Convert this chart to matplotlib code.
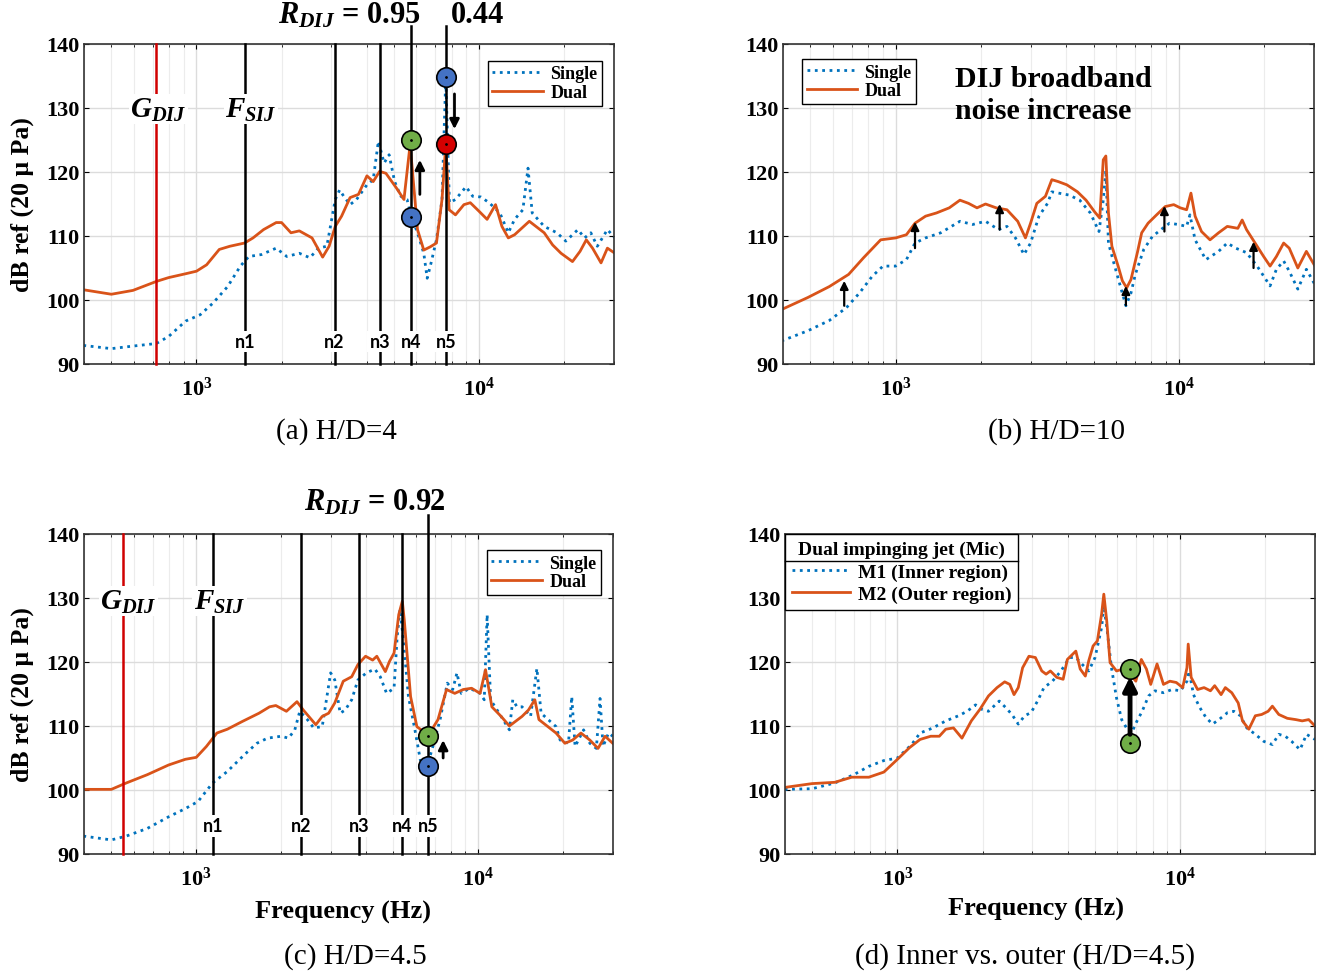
import matplotlib
matplotlib.use("Agg")
import matplotlib.pyplot as plt
from matplotlib.ticker import NullFormatter
from matplotlib.lines import Line2D

plt.rcParams['font.family'] = ['Liberation Serif', 'DejaVu Serif']
plt.rcParams['mathtext.fontset'] = 'custom'
plt.rcParams['mathtext.rm'] = 'Liberation Serif:bold'
plt.rcParams['mathtext.it'] = 'Liberation Serif:italic:bold'
plt.rcParams['mathtext.bf'] = 'Liberation Serif:bold'

# ---------------- data ----------------
# (a) H/D=4
a_freq_single = [398, 500, 596, 721, 797, 915, 1031, 1143, 1289, 1430,
                 1532, 1697, 1914, 2087, 2311, 2520, 2699, 2892, 3097, 3210,
                 3319, 3494, 3683, 4009, 4219, 4400, 4612, 4803, 5024, 5284,
                 5560, 5750, 6053, 6370, 6550, 6760, 7063, 7390, 7620, 7850,
                 8246, 8990, 9494, 10140, 10850, 11840, 12680, 13350, 14280, 14890,
                 15410, 16990, 18850, 20260, 22360, 23600, 24840, 26190, 28430, 30230]
a_single = [92.9, 92.4, 92.8, 93.2, 94.3, 96.7, 97.7, 99.5, 102.1, 105.3,
            106.8, 107.1, 108.1, 106.8, 107.3, 106.6, 108.1, 108.4, 115.7, 117.2,
            116.2, 114.9, 115.7, 118.0, 118.8, 124.8, 121.4, 122.7, 118.5, 116.2,
            115.7, 113.1, 110.5, 107.3, 103.4, 105.8, 109.4, 115.7, 134.7, 115.2,
            115.7, 117.7, 116.2, 116.1, 115.2, 113.6, 110.5, 112.6, 114.1, 120.6,
            113.6, 111.5, 110.5, 109.2, 111.0, 109.7, 110.5, 108.4, 111.0, 109.7]
a_freq_dual = [398, 500, 596, 721, 797, 915, 1000, 1086, 1204, 1313,
               1479, 1585, 1727, 1914, 2000, 2159, 2311, 2563, 2795, 2946,
               3097, 3261, 3494, 3741, 4009, 4219, 4444, 4679, 5097, 5420,
               5700, 5900, 6053, 6370, 6710, 7063, 7390, 7620, 7834, 8246,
               8834, 9306, 9975, 10670, 11430, 12040, 12680, 13350, 15050, 16990,
               18200, 19490, 21390, 22750, 23940, 25190, 26990, 28430, 30230]
a_dual = [101.6, 100.9, 101.5, 102.9, 103.5, 104.1, 104.5, 105.5, 107.9, 108.4,
          108.9, 109.7, 111.0, 112.1, 112.1, 110.5, 110.8, 109.7, 106.7, 108.4,
          111.5, 113.1, 116.0, 116.5, 119.4, 118.5, 120.1, 119.8, 117.5, 115.7,
          124.3, 116.7, 111.0, 107.8, 108.3, 108.9, 115.7, 124.3, 114.1, 113.3,
          114.9, 115.2, 113.9, 112.6, 114.9, 111.5, 109.7, 110.2, 112.3, 110.5,
          108.6, 107.3, 106.0, 107.6, 109.4, 108.1, 105.8, 108.1, 107.3]

# (b) H/D=10
b_freq_single = [395, 490, 583, 670, 745, 826, 902, 1000, 1091, 1170,
                 1275, 1442, 1686, 1870, 2076, 2306, 2471, 2648, 2838, 2994,
                 3206, 3437, 3559, 4093, 4465, 4867, 5222, 5407, 5522, 5640,
                 5891, 6209, 6500, 6774, 7017, 7515, 8054, 8640, 9270, 9935,
                 10650, 10940, 11410, 12450, 13810, 14820, 15880, 17330, 18890, 20990,
                 22100, 23440, 24530, 26300, 28200, 30230]
b_single = [93.6, 95.2, 96.8, 98.8, 101.1, 103.7, 105.3, 105.3, 106.3, 108.9,
            109.7, 110.5, 112.3, 111.8, 112.3, 111.0, 111.5, 109.7, 107.1, 108.9,
            113.1, 115.1, 116.9, 116.4, 115.6, 113.6, 110.7, 115.6, 120.3, 108.9,
            105.8, 102.2, 99.1, 101.1, 104.0, 107.9, 109.9, 111.0, 112.0, 111.8,
            111.5, 113.3, 109.4, 106.3, 107.6, 108.9, 108.1, 107.4, 105.3, 102.2,
            104.8, 106.1, 104.5, 101.7, 104.8, 102.4]
b_freq_dual = [395, 490, 583, 682, 770, 885, 1000, 1091, 1170, 1275,
               1393, 1546, 1686, 1808, 1937, 2076, 2264, 2471, 2697, 2872,
               2994, 3150, 3379, 3559, 3750, 4020, 4385, 4700, 5036, 5256,
               5407, 5522, 5640, 5800, 6102, 6316, 6541, 6774, 7134, 7390,
               7785, 8340, 8950, 9590, 10110, 10650, 11030, 11410, 12020, 12880,
               13810, 14820, 16150, 16730, 17330, 18580, 19920, 20990, 22100, 23440,
               24530, 26300, 28200, 30230]
b_dual = [98.5, 100.4, 102.1, 104.0, 106.6, 109.4, 109.7, 110.2, 112.0, 113.1,
          113.6, 114.4, 115.6, 115.1, 114.4, 115.0, 114.4, 114.1, 112.3, 109.7,
          112.0, 115.1, 116.2, 118.8, 118.5, 118.0, 116.9, 115.6, 113.8, 112.8,
          121.9, 122.5, 113.6, 108.4, 105.3, 103.0, 101.9, 103.2, 107.4, 110.5,
          112.0, 113.3, 114.6, 114.9, 114.4, 114.1, 116.7, 113.1, 110.7, 109.4,
          110.5, 111.5, 111.2, 112.5, 111.0, 108.9, 106.8, 105.3, 106.8, 108.9,
          108.1, 105.0, 107.6, 105.3]

# (c) H/D=4.5
c_freq_single = [398, 500, 565, 671, 797, 915, 1014, 1143, 1289, 1480,
                 1640, 1788, 2000, 2123, 2235, 2328, 2476, 2608, 2795, 2994,
                 3097, 3236, 3373, 3556, 3741, 4009, 4296, 4489, 4728, 5024,
                 5154, 5273, 5420, 5650, 5957, 6226, 6580, 6950, 7315, 7760,
                 8110, 8395, 8690, 9306, 10140, 10490, 10740, 11050, 11840, 12880,
                 13240, 13700, 14280, 15310, 16120, 16680, 18850, 19490, 20860, 21420,
                 22020, 23600, 24840, 26190, 26990, 27660, 28920, 29930]
c_single = [92.8, 92.2, 92.8, 94.0, 95.8, 97.1, 98.2, 101.1, 102.9, 105.5,
            107.3, 108.1, 108.4, 108.1, 109.4, 112.3, 111.0, 109.7, 109.9, 118.3,
            117.2, 112.0, 112.5, 114.1, 117.2, 118.3, 118.9, 117.7, 115.1, 115.9,
            124.0, 128.2, 123.5, 114.6, 109.4, 104.7, 103.7, 107.3, 111.0, 116.7,
            115.7, 118.3, 115.1, 115.9, 115.1, 114.1, 127.4, 114.1, 112.0, 109.4,
            114.1, 113.0, 113.0, 111.5, 119.0, 112.0, 109.9, 107.8, 107.3, 114.6,
            106.8, 109.4, 107.3, 106.5, 114.3, 106.8, 108.9, 108.4]
c_freq_dual = [398, 500, 565, 671, 797, 915, 1000, 1086, 1183, 1289,
               1455, 1669, 1819, 1914, 2087, 2275, 2395, 2653, 2795, 2946,
               3097, 3319, 3556, 3741, 3981, 4219, 4365, 4679, 4841, 5024,
               5220, 5375, 5460, 5750, 6053, 6490, 6830, 7190, 7710, 8246,
               8834, 9460, 10140, 10600, 11160, 12040, 12880, 14280, 15050, 15850,
               16390, 18850, 20260, 21580, 23090, 24840, 26550, 28120, 29930]
c_dual = [100.1, 100.1, 101.1, 102.4, 103.9, 104.8, 105.1, 106.8, 108.9, 109.5,
          110.7, 112.0, 113.0, 113.2, 112.3, 113.8, 112.5, 110.2, 111.5, 112.0,
          113.6, 117.0, 117.7, 119.6, 120.9, 120.3, 120.9, 118.5, 120.1, 121.4,
          127.4, 129.5, 126.6, 114.6, 109.9, 108.9, 109.4, 111.0, 115.7, 115.1,
          115.7, 115.9, 115.1, 118.8, 113.0, 111.5, 110.0, 111.5, 112.5, 114.1,
          111.0, 108.9, 107.3, 107.8, 108.9, 107.8, 106.5, 108.4, 107.3]

# (d) inner vs outer, H/D=4.5
d_freq_inner = [399, 499, 600, 701, 792, 895, 1000, 1122, 1202, 1335,
                1482, 1645, 1763, 1889, 1990, 2099, 2291, 2412, 2541, 2675,
                2818, 2970, 3130, 3297, 3534, 3789, 4061, 4275, 4510, 4750,
                5000, 5275, 5370, 5520, 5715, 5955, 6210, 6500, 6730, 7040,
                7340, 7735, 8150, 8730, 9360, 10040, 10570, 10760, 11150, 11730,
                12350, 13020, 13720, 14720, 15500, 16330, 17210, 18450, 19760, 21200,
                22340, 23560, 24800, 26560, 28000, 30000]
d_inner = [100.1, 100.2, 101.1, 102.4, 103.7, 104.6, 105.0, 107.1, 108.9, 109.7,
           110.8, 111.6, 112.3, 113.3, 112.6, 112.3, 113.9, 112.9, 111.8, 110.3,
           111.6, 112.1, 113.9, 116.0, 117.0, 118.6, 120.7, 120.7, 119.6, 118.6,
           120.7, 125.4, 128.8, 124.9, 119.1, 114.4, 111.0, 109.5, 108.9, 110.8,
           112.3, 114.7, 115.5, 115.2, 115.7, 115.5, 117.0, 118.6, 114.9, 112.9,
           111.3, 110.3, 111.0, 112.1, 112.3, 111.6, 109.7, 108.7, 107.6, 107.1,
           108.7, 108.4, 107.6, 106.3, 108.7, 107.9]
d_freq_outer = [399, 499, 600, 689, 792, 895, 1000, 1102, 1202, 1311,
                1406, 1482, 1578, 1691, 1825, 1957, 2099, 2250, 2395, 2496,
                2584, 2675, 2771, 2918, 3075, 3240, 3355, 3475, 3660, 3855,
                3990, 4275, 4431, 4620, 4750, 4920, 5096, 5275, 5370, 5500,
                5650, 5955, 6280, 6615, 6970, 7290, 7600, 7870, 8285, 8730,
                9200, 9690, 10210, 10570, 10680, 10940, 11530, 12150, 12800, 13250,
                13960, 14450, 15230, 16050, 16620, 17500, 18450, 19430, 20480, 21200,
                22340, 23940, 25650, 27030, 28500, 30000]
d_outer = [100.4, 101.0, 101.2, 102.0, 102.0, 102.8, 104.8, 106.6, 107.9, 108.4,
           108.4, 109.5, 109.7, 108.1, 110.8, 112.6, 114.7, 116.0, 116.9, 116.5,
           114.9, 116.0, 119.1, 120.9, 120.7, 118.6, 118.1, 118.6, 117.6, 117.3,
           120.4, 121.7, 118.9, 117.8, 120.2, 122.5, 123.3, 127.5, 130.6, 126.4,
           119.9, 118.6, 118.9, 118.3, 117.0, 120.4, 118.9, 116.5, 119.7, 116.5,
           117.0, 116.8, 116.0, 119.1, 122.8, 117.6, 115.7, 116.0, 115.5, 116.3,
           114.9, 116.0, 115.2, 113.6, 110.8, 109.5, 111.6, 111.8, 112.3, 113.1,
           111.8, 111.2, 111.0, 110.8, 111.0, 110.0]

# marker lines (Hz)
a_g_dij, a_f_sij = 720, 1490
a_modes = [1490, 3080, 4450, 5750, 7620]
c_g_dij, c_f_sij = 550, 1150
c_modes = [1150, 2345, 3770, 5375, 6640]
mode_names = ['n1', 'n2', 'n3', 'n4', 'n5']

BLUE = '#0072BD'
ORANGE = '#D95319'
C_BLUE = '#4472C4'
C_GREEN = '#70AD47'
C_RED = '#D40000'

fig = plt.figure(figsize=(13.29, 9.79), dpi=100)
W, H = 1329, 979


def add_ax(l, r, t, b):
    return fig.add_axes([l / W, 1 - b / H, (r - l) / W, (b - t) / H])


def setup(ax, ylabel=False, xlabel=False):
    ax.set_xscale('log')
    ax.set_xlim(400, 30000)
    ax.set_ylim(90, 140)
    ax.set_yticks(range(90, 141, 10), labels=[str(v) for v in range(90, 141, 10)],
                  fontweight='bold')
    ax.set_xticks([1e3, 1e4], labels=[r'$\mathdefault{10^{3}}$', r'$\mathdefault{10^{4}}$'],
                  fontweight='bold')
    ax.xaxis.set_minor_formatter(NullFormatter())
    ax.tick_params(which='both', direction='in', top=True, right=True, labelsize=16)
    ax.tick_params(axis='x', pad=9)
    ax.grid(True, which='major', color='#dcdcdc', lw=1)
    ax.grid(True, which='minor', axis='x', color='#ececec', lw=0.8)
    ax.set_axisbelow(True)
    for s in ax.spines.values():
        s.set_linewidth(1.2)
        s.set_color('#333333')
    if ylabel:
        ax.set_ylabel('dB ref (20 μ Pa)', fontsize=18.5, fontweight='bold')
        ax.yaxis.set_label_coords(-0.095, 0.5)
    if xlabel:
        ax.set_xlabel('Frequency (Hz)', fontsize=19, fontweight='bold')
        ax.xaxis.label.set_va('center')


def legend(ax, labels, size=13, **kw):
    opts = dict(prop={'weight': 'bold', 'size': size}, fancybox=False, framealpha=1,
                edgecolor='k', handlelength=2.8, handletextpad=0.4, labelspacing=0.1,
                borderpad=0.25, borderaxespad=0)
    opts.update(kw)
    leg = ax.legend(labels, **opts)
    leg.get_frame().set_linewidth(1.0)
    return leg


def vline(ax, f, color='k', top=140):
    ax.plot([f, f], [90, top], color=color, lw=1.8, clip_on=False, zorder=3)


def label(ax, f, y, s, size=21):
    ax.text(f, y, s, ha='center', va='center', fontsize=size, zorder=4,
            bbox=dict(fc='white', ec='none', pad=1))


def nlabels(ax, modes, y):
    for f, n in zip(modes, mode_names):
        ax.text(f, y, n, ha='center', va='center', fontsize=13, family='Lato',
                fontweight='bold', zorder=4, bbox=dict(fc='white', ec='none', pad=1.5))


def circle(ax, f, y, color):
    ax.plot(f, y, 'o', ms=14, mfc=color, mec='k', mew=1.2, zorder=6, clip_on=False)
    ax.plot(f, y, '.', ms=2, color='k', zorder=7)


def arrow(ax, f, y0, y1, lw=2, ms=14):
    ax.annotate('', xy=(f, y1), xytext=(f, y0), zorder=6,
                arrowprops=dict(arrowstyle='-|>', color='k', lw=lw, mutation_scale=ms,
                                shrinkA=0, shrinkB=0))


# ---------------- (a) ----------------
ax = add_ax(84, 614, 45, 365)
setup(ax, ylabel=True)
ax.plot(a_freq_single, a_single, ':', color=BLUE, lw=2, zorder=2)
ax.plot(a_freq_dual, a_dual, '-', color=ORANGE, lw=2, zorder=2)
legend(ax, ['Single', 'Dual'], loc='upper right', bbox_to_anchor=(0.977, 0.947))
vline(ax, a_g_dij, color='#D00000')
for i, f in enumerate(a_modes):
    vline(ax, f, top=142.8 if i >= 3 else 140)
label(ax, 735, 129.8, r'$G_{DIJ}$')
label(ax, 1560, 129.8, r'$F_{SIJ}$')
nlabels(ax, a_modes, 93.5)
circle(ax, a_modes[3], 125.0, C_GREEN)
circle(ax, a_modes[3], 112.9, C_BLUE)
circle(ax, a_modes[4], 134.9, C_BLUE)
circle(ax, a_modes[4], 124.3, C_RED)
arrow(ax, 6170, 116.5, 121.9)
arrow(ax, 8180, 132.2, 126.7)
ax.text(3480, 144.6, r'$R_{DIJ}$ = 0.95', ha='center', va='center', fontsize=22,
        fontweight='bold', clip_on=False)
ax.text(9900, 144.6, '0.44', ha='center', va='center', fontsize=22,
        fontweight='bold', clip_on=False)

# ---------------- (b) ----------------
ax = add_ax(783, 1314, 45, 365)
setup(ax)
ax.plot(b_freq_single, b_single, ':', color=BLUE, lw=2, zorder=2)
ax.plot(b_freq_dual, b_dual, '-', color=ORANGE, lw=2, zorder=2)
legend(ax, ['Single', 'Dual'], loc='upper left', bbox_to_anchor=(0.036, 0.953))
ax.text(0.324, 0.935, 'DIJ broadband\nnoise increase', transform=ax.transAxes,
        ha='left', va='top', fontsize=21.5, fontweight='bold', linespacing=1.25)
for f, y0, y1 in [(658, 99.1, 103.0), (1170, 108.1, 112.2), (2328, 111.0, 115.0),
                  (6500, 99.2, 102.2), (8890, 110.7, 114.7), (18350, 105.0, 109.1)]:
    arrow(ax, f, y0, y1, lw=1.6, ms=12)

# ---------------- (c) ----------------
ax = add_ax(84, 613, 535, 855)
setup(ax, ylabel=True, xlabel=True)
ax.xaxis.set_label_coords(0.49, -0.178)
ax.plot(c_freq_single, c_single, ':', color=BLUE, lw=2, zorder=2)
ax.plot(c_freq_dual, c_dual, '-', color=ORANGE, lw=2, zorder=2)
legend(ax, ['Single', 'Dual'], loc='upper right', bbox_to_anchor=(0.977, 0.95))
vline(ax, c_g_dij, color='#D00000')
for i, f in enumerate(c_modes):
    vline(ax, f, top=143.0 if i == 4 else 140)
label(ax, 575, 129.5, r'$G_{DIJ}$')
label(ax, 1210, 129.5, r'$F_{SIJ}$')
nlabels(ax, c_modes, 94.4)
circle(ax, c_modes[4], 108.4, C_GREEN)
circle(ax, c_modes[4], 103.8, C_BLUE)
arrow(ax, 7500, 105.0, 107.8)
ax.text(4300, 145.1, r'$R_{DIJ}$ = 0.92', ha='center', va='center', fontsize=22,
        fontweight='bold', clip_on=False)

# ---------------- (d) ----------------
ax = add_ax(785, 1315, 535, 855)
setup(ax, xlabel=True)
ax.xaxis.set_label_coords(0.474, -0.169)
ax.plot(d_freq_inner, d_inner, ':', color=BLUE, lw=2, zorder=2)
ax.plot(d_freq_outer, d_outer, '-', color=ORANGE, lw=2, zorder=2)
leg_d = legend(ax, ['M1 (Inner region)', 'M2 (Outer region)'], size=14,
               loc='upper left', bbox_to_anchor=(0.0, 1.0), labelspacing=0.25,
               borderpad=0.35, handlelength=3.0,
               title='Dual impinging jet (Mic)',
               title_fontproperties={'weight': 'bold', 'size': 14})
circle(ax, 6650, 118.9, C_GREEN)
circle(ax, 6650, 107.4, C_GREEN)
arrow(ax, 6650, 108.7, 117.7, lw=3.5, ms=20)

# ---------------- captions ----------------
for x, y, s in [(336, 432, '(a) H/D=4'), (1056, 432, '(b) H/D=10'),
                (355, 957, '(c) H/D=4.5'), (1025, 957, '(d) Inner vs. outer (H/D=4.5)')]:
    fig.text(x / W, 1 - y / H, s, ha='center', va='center', fontsize=21)

# separator line under the legend title in (d)
fig.canvas.draw()
lb = leg_d.get_window_extent()
tb = leg_d.get_title().get_window_extent()
ysep = tb.y0 - 3
fig.add_artist(Line2D([lb.x0 / W, lb.x1 / W], [ysep / H, ysep / H],
                      transform=fig.transFigure, color='k', lw=1.0))

fig.savefig('out.png', dpi=100)
